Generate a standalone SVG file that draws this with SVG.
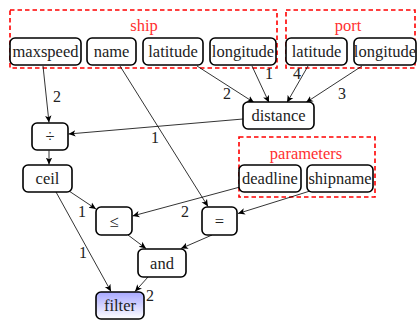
<svg xmlns="http://www.w3.org/2000/svg" width="417" height="324" viewBox="0 0 417 324">
<defs>
<marker id="arr" markerWidth="8" markerHeight="8" refX="7" refY="4" orient="auto" markerUnits="userSpaceOnUse">
<path d="M0,0.8 L7,4 L0,7.2 L1.8,4 z" fill="#000"/>
</marker>
<linearGradient id="blue" x1="0" y1="0" x2="0" y2="1">
<stop offset="0" stop-color="#a8a8ff"/>
<stop offset="1" stop-color="#ffffff"/>
</linearGradient>
</defs>
<style>
text{font-family:"Liberation Serif","DejaVu Serif",serif;font-size:16.5px;fill:#222;text-anchor:middle;dominant-baseline:central}
.node rect{fill:#fff;stroke:#000;stroke-width:1.6}
.grp{fill:none;stroke:#ff0000;stroke-width:1.6;stroke-dasharray:4.5 3}
text.glabel{fill:#ff3030}
.edges line{stroke:#000;stroke-width:0.8;marker-end:url(#arr)}
text.lbl{font-size:16px;fill:#222}
</style>
<rect fill="#fff" x="0" y="0" width="417" height="324"/>
<g id="group-ship"><rect class="grp" x="10" y="10" width="267" height="58"/><text class="glabel" x="144" y="25">ship</text></g>
<g id="group-port"><rect class="grp" x="286" y="10" width="129" height="58"/><text class="glabel" x="348" y="25">port</text></g>
<g id="group-parameters"><rect class="grp" x="239" y="137" width="136" height="60"/><text class="glabel" x="306" y="153">parameters</text></g>

<g class="edges" id="connectors">
<line x1="43" y1="66" x2="49" y2="122.5"/>
<line x1="120" y1="66" x2="208" y2="206.5"/>
<line x1="197" y1="66" x2="254" y2="102.5"/>
<line x1="252" y1="66" x2="269" y2="102.5"/>
<line x1="308" y1="66" x2="287" y2="102.5"/>
<line x1="362" y1="66" x2="306" y2="102.5"/>
<line x1="243" y1="119" x2="68.5" y2="134"/>
<line x1="49" y1="150.5" x2="49" y2="164.5"/>
<line x1="69" y1="191" x2="96" y2="209"/>
<line x1="56" y1="192" x2="111" y2="291.5"/>
<line x1="240" y1="187" x2="132.5" y2="216"/>
<line x1="310" y1="191" x2="238" y2="213.5"/>
<line x1="128" y1="235" x2="146" y2="248.5"/>
<line x1="212" y1="235" x2="181" y2="248.5"/>
<line x1="148" y1="277" x2="135" y2="291.5"/>
<text class="lbl" x="57" y="96">2</text>
<text class="lbl" x="227" y="93">2</text>
<text class="lbl" x="269" y="73">1</text>
<text class="lbl" x="297" y="73">4</text>
<text class="lbl" x="342" y="93">3</text>
<text class="lbl" x="155" y="137">1</text>
<text class="lbl" x="82" y="211">1</text>
<text class="lbl" x="83" y="252">1</text>
<text class="lbl" x="185" y="211">2</text>
<text class="lbl" x="150" y="295">2</text>
</g>

<g class="node" id="maxspeed"><rect x="10" y="38" width="71" height="27" rx="5"/><text x="45.5" y="51.5">maxspeed</text></g>
<g class="node" id="name"><rect x="87" y="38" width="49" height="27" rx="5"/><text x="111.5" y="51.5">name</text></g>
<g class="node" id="ship-latitude"><rect x="143" y="38" width="60" height="27" rx="5"/><text x="173" y="51.5">latitude</text></g>
<g class="node" id="ship-longitude"><rect x="210" y="38" width="66" height="27" rx="5"/><text x="243" y="51.5">longitude</text></g>
<g class="node" id="port-latitude"><rect x="286" y="38" width="61" height="27" rx="5"/><text x="316.5" y="51.5">latitude</text></g>
<g class="node" id="port-longitude"><rect x="354" y="38" width="62" height="27" rx="5"/><text x="385" y="51.5">longitude</text></g>
<g class="node" id="distance"><rect x="243" y="102" width="71" height="27" rx="5"/><text x="278.5" y="115.5">distance</text></g>
<g class="node" id="divide"><rect x="32" y="123" width="36" height="27" rx="5"/><text x="50" y="136.5">÷</text></g>
<g class="node" id="ceil"><rect x="23" y="165" width="49" height="27" rx="5"/><text x="47.5" y="178.5">ceil</text></g>
<g class="node" id="deadline"><rect x="239" y="165" width="62" height="27" rx="5"/><text x="270" y="178.5">deadline</text></g>
<g class="node" id="shipname"><rect x="307" y="165" width="66" height="27" rx="5"/><text x="340" y="178.5">shipname</text></g>
<g class="node" id="leq"><rect x="96" y="207" width="36" height="28" rx="5"/><text x="114" y="221">≤</text></g>
<g class="node" id="eq"><rect x="202" y="207" width="35" height="28" rx="5"/><text x="219.5" y="221">=</text></g>
<g class="node" id="and"><rect x="138" y="249" width="48" height="28" rx="5"/><text x="162" y="263">and</text></g>
<g class="node" id="filter"><rect x="96" y="292" width="48" height="27" rx="5" style="fill:url(#blue)"/><text x="120" y="305.5">filter</text></g>
</svg>
